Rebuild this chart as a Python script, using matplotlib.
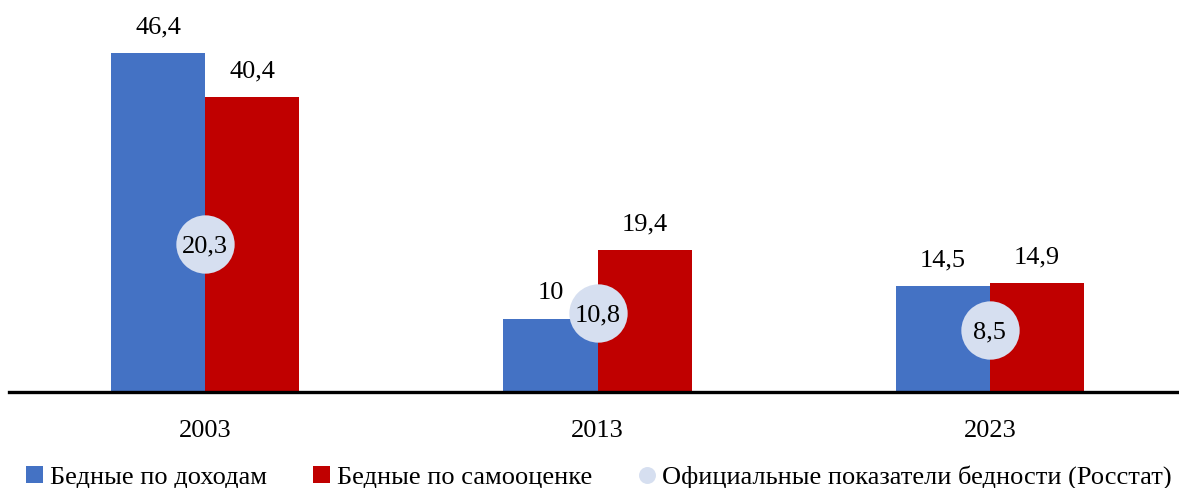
import matplotlib
matplotlib.use("Agg")
import matplotlib.pyplot as plt
from matplotlib.lines import Line2D
from matplotlib.patches import Patch
import numpy as np

years = ["2003", "2013", "2023"]
income_poor = [46.4, 10, 14.5]
self_poor = [40.4, 19.4, 14.9]
official = [20.3, 10.8, 8.5]
labels = ["Бедные по доходам", "Бедные по самооценке",
          "Официальные показатели бедности (Росстат)"]

BLUE = "#4472C4"
RED = "#C00000"
CIRC = "#D6DFF0"

def fmt(v):
    s = f"{v:g}"
    return s.replace(".", ",")

plt.rcParams["font.family"] = ["Liberation Serif", "DejaVu Serif"]
FS = 19

W, H = 1179, 488
fig = plt.figure(figsize=(W / 100, H / 100), dpi=100)
x0, x1 = 9, 1186
ybase = 392
ppu = (392 - 53) / 46.4
ymax = 50
ax = fig.add_axes([x0 / W, (H - ybase) / H, (x1 - x0) / W, ymax * ppu / H])
ax.set_xlim(-0.5, 2.5)
ax.set_ylim(0, ymax)

x = np.arange(len(years))
w = 0.24
b1 = ax.bar(x - w / 2, income_poor, w, color=BLUE, zorder=2)
b2 = ax.bar(x + w / 2, self_poor, w, color=RED, zorder=2)

for rect, v in zip(list(b1) + list(b2), income_poor + self_poor):
    ax.annotate(fmt(v), (rect.get_x() + rect.get_width() / 2, v),
                xytext=(0, 14.0), textcoords="offset points",
                ha="center", va="baseline", fontsize=FS, annotation_clip=False)

ax.plot(x, official, "o", ms=42, color=CIRC, mec="none", zorder=3, clip_on=False)
for xi, v in zip(x, official):
    ax.text(xi, v, fmt(v), ha="center", va="center_baseline", fontsize=FS, zorder=4)

for s in ["top", "right", "left"]:
    ax.spines[s].set_visible(False)
ax.spines["bottom"].set_linewidth(2.4)
ax.spines["bottom"].set_color("black")
ax.set_yticks([])
ax.set_xticks(x)
ax.set_xticklabels(years, fontsize=FS)
ax.tick_params(axis="x", length=0, pad=20)

handles = [
    Patch(facecolor=BLUE, edgecolor="none"),
    Patch(facecolor=RED, edgecolor="none"),
    Line2D([], [], marker="o", ls="none", color=CIRC, ms=12.2, mec="none"),
]
fig.legend(handles, labels, loc="center left", bbox_to_anchor=(26 / W, (H - 477) / H),
           ncol=3, frameon=False, fontsize=FS, handlelength=0.64, handleheight=0.64,
           handletextpad=0.27, columnspacing=1.74, borderaxespad=0, borderpad=0)

fig.savefig("out.png", dpi=100)
